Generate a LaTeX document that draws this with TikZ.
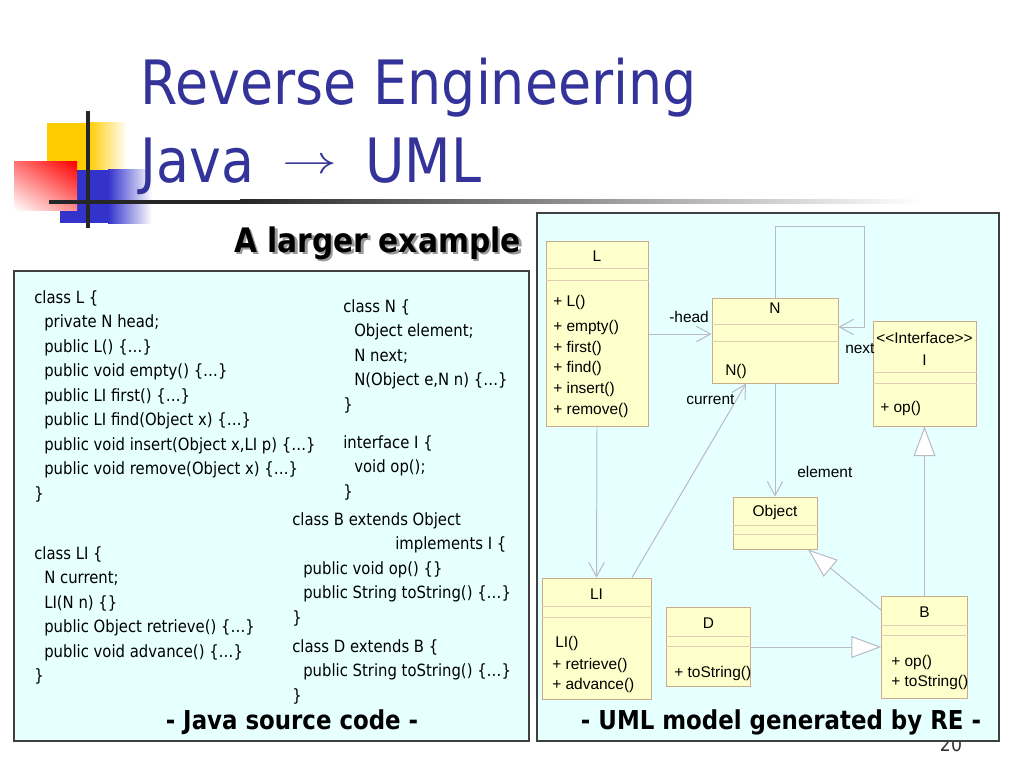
\documentclass[tikz,border=0pt]{standalone}
\usepackage{fontspec}
\setmainfont{DejaVu Sans}[FakeStretch=0.88]
\newfontfamily\umlfont{Liberation Sans}
\usepackage{graphicx}
\usepackage{tikz}
\usetikzlibrary{arrows.meta}
\usetikzlibrary{fit}
\usetikzlibrary{shadings}

\definecolor{titleblue}{RGB}{51,51,153}
\definecolor{panelcyan}{RGB}{230,255,255}
\definecolor{classfill}{RGB}{255,255,204}
\definecolor{classline}{RGB}{204,170,140}
\definecolor{compcol}{RGB}{222,205,175}
\definecolor{linkgray}{RGB}{185,185,200}
\definecolor{logoyellow}{RGB}{255,204,0}
\definecolor{logoblue}{RGB}{51,51,204}
\definecolor{logored}{RGB}{255,0,0}

\newcommand{\codefont}{\fontsize{12pt}{14pt}\selectfont}
\newcommand{\umltxt}{\umlfont\fontsize{11pt}{13pt}\selectfont}

\tikzset{
  panel/.style={draw=black!75, fill=panelcyan, line width=1pt, inner sep=0pt},
  umlclass/.style={draw=classline, fill=classfill, line width=0.7pt, inner sep=0pt},
  compline/.style={draw=compcol, line width=0.6pt},
  umltext/.style={font=\umltxt, inner sep=0pt},
  code/.style={font=\codefont, inner sep=0pt, anchor=base west},
  assoc/.style={draw=linkgray, line width=0.7pt, -{Straight Barb[length=10pt, width=11pt]}},
  gen/.style={draw=linkgray, line width=0.7pt, -{Triangle[length=21pt, width=15.5pt, fill=white]}},
}

\begin{document}
\begin{tikzpicture}[x=0.025cm, y=-0.025cm]
\useasboundingbox (0,0) rectangle (1024,768);
\fill[white] (0,0) rectangle (1024,768);

% logo
\fill[logoyellow] (47,123) rectangle (88,170);
\shade[left color=logoyellow, right color=white] (88,123) rectangle (127,170);
\fill[logoblue] (60,170) rectangle (108,223);
\shade[left color=logoblue, right color=white] (108,170) rectangle (152,223);
\shade[upper right=logored, upper left=logored!55!white, lower right=logored!45!white, lower left=white] (14,162) rectangle (77,210);
\fill[black!85] (85.5,111) rectangle (89.5,228);
\fill[black!85] (49,199.5) rectangle (240,203.5);
\shade[left color=black!85, right color=white] (240,199.5) rectangle (920,203.5);

% title
\node[anchor=base west, inner sep=0, text=titleblue, font=\fontsize{43.5pt}{50pt}\selectfont] (titleA) at (140,105) {Reverse Engineering};
\node[anchor=base west, inner sep=0, text=titleblue, font=\fontsize{43.5pt}{50pt}\selectfont] (titleB) at (140,183) {Java {\fontsize{10pt}{12pt}\selectfont\hspace{8pt}\raisebox{6.5pt}{\scalebox{3.9}[2.8]{$\rightarrow$}}\hspace{8pt}} UML};

\node[anchor=base east, inner sep=0, text=black!40, font=\bfseries\fontsize{24pt}{28pt}\selectfont] (exshadow) at (523.5,254.5) {A larger example};
\node[anchor=base east, inner sep=0, font=\bfseries\fontsize{24pt}{28pt}\selectfont] (example) at (521,252) {A larger example};

% page number, partly under the panel
\node[anchor=base, inner sep=0, text=black!80, font=\fontsize{14pt}{16pt}\selectfont] (pagenum) at (951,751) {20};

% panels
\node[panel, fit={(14,271) (529,741)}] (codepanel) {};
\node[panel, fit={(537,213) (999,741)}] (umlpanel) {};

% java source
\foreach \dx/\txt [count=\k from 0] in {0/{class L \{}, 10/{private N head;}, 10/{public L() \{…\}},
    10/{public void empty() \{…\}}, 10/{public LI first() \{…\}}, 10/{public LI find(Object x) \{…\}},
    10/{public void insert(Object x,LI p) \{…\}}, 10/{public void remove(Object x) \{…\}}, 0/{\}}}
  \node[code] (codeL\k) at (34+\dx, 303+24.5*\k) {\txt};
\foreach \dx/\txt [count=\k from 0] in {0/{class LI \{}, 10/{N current;}, 10/{LI(N n) \{\}},
    10/{public Object retrieve() \{…\}}, 10/{public void advance() \{…\}}, 0/{\}}}
  \node[code] (codeLI\k) at (34+\dx, 559+24.5*\k) {\txt};
\foreach \dx/\txt [count=\k from 0] in {0/{class N \{}, 11/{Object element;}, 11/{N next;},
    11/{N(Object e,N n) \{…\}}, 0/{\}}}
  \node[code] (codeN\k) at (343+\dx, 312+24.5*\k) {\txt};
\foreach \dx/\txt [count=\k from 0] in {0/{interface I \{}, 11/{void op();}, 0/{\}}}
  \node[code] (codeI\k) at (343+\dx, 448+24.5*\k) {\txt};
\foreach \dx/\txt [count=\k from 0] in {0/{class B extends Object}, 103/{implements I \{},
    11/{public void op() \{\}}, 11/{public String toString() \{…\}}, 0/{\}}}
  \node[code] (codeB\k) at (292+\dx, 525+24.5*\k) {\txt};
\foreach \dx/\txt [count=\k from 0] in {0/{class D extends B \{}, 11/{public String toString() \{…\}}, 0/{\}}}
  \node[code] (codeD\k) at (292+\dx, 652+24.5*\k) {\txt};

\node[anchor=base, inner sep=0, font=\bfseries\fontsize{18.5pt}{22pt}\selectfont] (javafoot) at (292,729) {- Java source code -};
\node[anchor=base, inner sep=0, font=\bfseries\fontsize{18.5pt}{22pt}\selectfont] (umlfoot) at (781,729) {- UML model generated by RE -};

% uml classes
\node[umlclass, fit={(546,241) (648,426)}] (L) {};
\draw[compline] (L.west |- 0,268) -- (L.east |- 0,268);
\draw[compline] (L.west |- 0,280) -- (L.east |- 0,280);
\node[umltext, anchor=base] (Lname) at (597,261.5) {L};
\foreach \txt/\yy [count=\k] in {{+ L()}/306, {+ empty()}/331, {+ first()}/352, {+ find()}/372, {+ insert()}/393, {+ remove()}/414}
  \node[umltext, anchor=base west] (Lop\k) at (553,\yy) {\txt};

\node[umlclass, fit={(712,298) (838,383)}] (N) {};
\draw[compline] (N.west |- 0,324) -- (N.east |- 0,324);
\draw[compline] (N.west |- 0,341) -- (N.east |- 0,341);
\node[umltext, anchor=base] (Nname) at (775,313.5) {N};
\node[umltext, anchor=base west] (Nop1) at (725,375) {N()};

\node[umlclass, fit={(873,321) (976,426)}] (I) {};
\draw[compline] (I.west |- 0,372) -- (I.east |- 0,372);
\draw[compline] (I.west |- 0,383) -- (I.east |- 0,383);
\node[umltext, anchor=base] (Istereo) at (924.5,343.5) {{<}{<}Interface{>}{>}};
\node[umltext, anchor=base] (Iname) at (924.5,365.5) {I};
\node[umltext, anchor=base west] (Iop1) at (880,412.5) {+ op()};

\node[umlclass, fit={(733,497) (817,549)}] (Object) {};
\draw[compline] (Object.west |- 0,525.5) -- (Object.east |- 0,525.5);
\draw[compline] (Object.west |- 0,534.5) -- (Object.east |- 0,534.5);
\node[umltext, anchor=base] (Objectname) at (775,516.5) {Object};

\node[umlclass, fit={(542,578) (651,699)}] (LI) {};
\draw[compline] (LI.west |- 0,606.5) -- (LI.east |- 0,606.5);
\draw[compline] (LI.west |- 0,617) -- (LI.east |- 0,617);
\node[umltext, anchor=base] (LIname) at (596.5,599) {LI};
\node[umltext, anchor=base west] (LIop1) at (555,647) {LI()};
\node[umltext, anchor=base west] (LIop2) at (552,669.5) {+ retrieve()};
\node[umltext, anchor=base west] (LIop3) at (552,689.5) {+ advance()};

\node[umlclass, fit={(666,607.5) (750.5,686.5)}] (D) {};
\draw[compline] (D.west |- 0,636.5) -- (D.east |- 0,636.5);
\draw[compline] (D.west |- 0,646.5) -- (D.east |- 0,646.5);
\node[umltext, anchor=base] (Dname) at (708.5,628) {D};
\node[umltext, anchor=base west] (Dop1) at (674,677) {+ toString()};

\node[umlclass, fit={(881.5,596) (967.5,698)}] (B) {};
\draw[compline] (B.west |- 0,625.5) -- (B.east |- 0,625.5);
\draw[compline] (B.west |- 0,635.5) -- (B.east |- 0,635.5);
\node[umltext, anchor=base] (Bname) at (924.5,617) {B};
\node[umltext, anchor=base west] (Bop1) at (891,666) {+ op()};
\node[umltext, anchor=base west] (Bop2) at (891,686) {+ toString()};

% connectors
\draw[assoc] (L.east |- 0,334) -- (N.west |- 0,334);
\draw[assoc] (N.north) |- (864,226) |- (N.east |- 0,327);
\draw[assoc] (LI.north -| 632,0) -- (N.south -| 746,0);
\draw[assoc] (N.south) -- (Object.north);
\draw[assoc] (L.south) -- (LI.north);
\draw[gen] (B.west |- 0,610) -- (Object.south -| 808,0);
\draw[gen] (B.north) -- (I.south);
\draw[gen] (D.east |- 0,647) -- (B.west |- 0,647);

\node[umltext, anchor=base west] (headlbl) at (669,322) {-head};
\node[umltext, anchor=base west] (nextlbl) at (845,353) {next};
\node[umltext, anchor=base west] (currentlbl) at (686,404.5) {current};
\node[umltext, anchor=base west] (elementlbl) at (797,477) {element};
\end{tikzpicture}
\end{document}
